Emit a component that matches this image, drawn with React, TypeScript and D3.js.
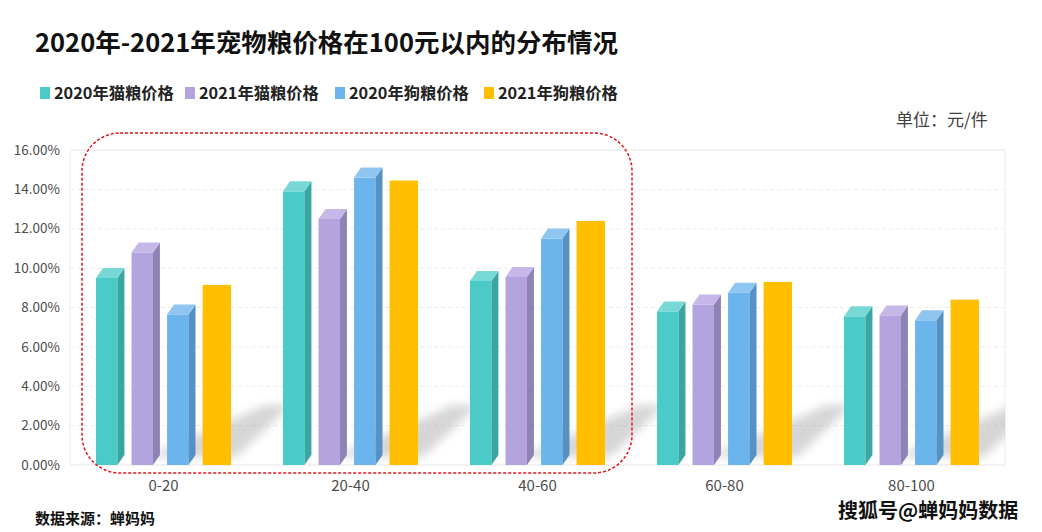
import React from "react";
import * as d3 from "d3";

const categories = ["0-20", "20-40", "40-60", "60-80", "80-100"];
const seriesNames = ["2020年猫粮价格", "2021年猫粮价格", "2020年狗粮价格", "2021年狗粮价格"];
const cat2020 = [9.5, 13.9, 9.35, 7.8, 7.55];
const cat2021 = [10.8, 12.5, 9.55, 8.15, 7.6];
const dog2020 = [7.65, 14.6, 11.5, 8.75, 7.35];
const dog2021 = [9.15, 14.45, 12.4, 9.3, 8.4];
const yTicks = [0, 2, 4, 6, 8, 10, 12, 14, 16];

const seriesValues = [cat2020, cat2021, dog2020, dog2021];
const colors = [
  { front: "#4bcbc8", side: "#3aa6a2", top: "#78d8d5", flat: false },
  { front: "#b3a3df", side: "#8f83b6", top: "#c5b8e8", flat: false },
  { front: "#6bb4ec", side: "#5292c4", top: "#8fc5f1", flat: false },
  { front: "#ffbf00", side: "#ffbf00", top: "#ffbf00", flat: true },
];

const FONT = "'Noto Sans CJK SC', 'Noto Sans', sans-serif";

export default function App() {
  const W = 1042, H = 532;
  const left = 70, right = 1005, top = 150, bottom = 465;
  const y = d3.scaleLinear().domain([0, 16]).range([bottom, top]);
  const x0 = d3.scaleBand<string>().domain(categories).range([left, right]).paddingInner(0.278).paddingOuter(0.139);
  const x1 = d3.scaleBand<number>().domain([0, 1, 2, 3]).range([0, x0.bandwidth()]).paddingInner(0.2);
  const dx = 7, dy = 10;
  const bw = x1.bandwidth();

  return (
    <div style={{ position: "absolute", left: 0, top: 0 }}>
      <svg width={W} height={H} style={{ display: "block", fontFamily: FONT }}>
        <defs>
          <filter id="blur" x="-50%" y="-50%" width="200%" height="200%">
            <feGaussianBlur stdDeviation="5" />
          </filter>
          <clipPath id="plotClip">
            <rect x={left} y={top} width={right - left} height={bottom - top} />
          </clipPath>
        </defs>
        <rect width={W} height={H} fill="#fff" />
        <text x={35} y={52} fontSize={25.5} fontWeight={700} fill="#111">2020年-2021年宠物粮价格在100元以内的分布情况</text>

        {/* legend */}
        {(() => {
          const starts = [40, 185, 335, 484];
          return seriesNames.map((s, i) => (
            <g key={s} transform={`translate(${starts[i]},0)`}>
              <rect x={0} y={87} width={10} height={12} fill={colors[i].front} />
              <text x={14} y={99} fontSize={16.3} fontWeight={700} fill="#222">{s}</text>
            </g>
          ));
        })()}

        <text x={896} y={126} fontSize={17} fill="#404040">单位：元/件</text>

        {/* plot frame & grid */}
        {yTicks.map((t) => (
          <g key={t}>
            <line x1={left} x2={right} y1={y(t)} y2={y(t)} stroke={t === 0 || t === 16 ? "#e6e6e6" : "#ececec"} strokeWidth={1} strokeDasharray={t === 0 || t === 16 ? undefined : "4,3"} />
            <text x={60} y={y(t)} dy="0.35em" textAnchor="end" fontSize={13.5} fill="#4d4d4d">{t.toFixed(2) + "%"}</text>
          </g>
        ))}
        <line x1={left} x2={left} y1={top} y2={bottom} stroke="#ececec" />
        <line x1={right} x2={right} y1={top} y2={bottom} stroke="#ececec" />

        {/* shadows */}
        <g clipPath="url(#plotClip)">
          {categories.map((c) => {
            const gx = x0(c)!;
            const gw = x0.bandwidth();
            const pts = [
              [gx + 50, bottom - 8],
              [gx + gw + 5, bottom - 8],
              [gx + gw + 60, bottom - 60],
              [gx + gw + 35, bottom - 60],
            ];
            return <polygon key={"s" + c} points={pts.map((p) => p.join(",")).join(" ")} fill="#8a8a8a" opacity={0.35} filter="url(#blur)" />;
          })}
        </g>

        {/* bars */}
        {categories.map((c, ci) => (
          <g key={c} transform={`translate(${x0(c)},0)`}>
            {seriesValues.map((vals, si) => {
              const bx = x1(si)!;
              const v = vals[ci];
              const yv = y(v);
              const col = colors[si];
              if (col.flat) {
                return <rect key={si} x={bx} y={yv} width={bw} height={bottom - yv} fill={col.front} />;
              }
              const fw = bw - dx;
              return (
                <g key={si}>
                  <rect x={bx} y={yv} width={fw} height={bottom - yv} fill={col.front} />
                  <polygon points={`${bx + fw},${yv} ${bx + fw + dx},${yv - dy} ${bx + fw + dx},${bottom - dy} ${bx + fw},${bottom}`} fill={col.side} />
                  <polygon points={`${bx},${yv} ${bx + dx},${yv - dy} ${bx + fw + dx},${yv - dy} ${bx + fw},${yv}`} fill={col.top} />
                </g>
              );
            })}
          </g>
        ))}

        {/* x labels */}
        {categories.map((c) => (
          <text key={"l" + c} x={x0(c)! + x0.bandwidth() / 2} y={491} textAnchor="middle" fontSize={15} fill="#4d4d4d">{c}</text>
        ))}

        {/* highlight */}
        <rect x={82} y={133} width={550} height={340} rx={38} ry={38} fill="none" stroke="#e8141b" strokeWidth={1.5} strokeDasharray="3,2" />

        <text x={35} y={524} fontSize={15} fontWeight={700} fill="#111">数据来源：蝉妈妈</text>
        <text x={838} y={518} fontSize={20} fontWeight={700} fill="#111" stroke="#fff" strokeWidth={1.2} paintOrder="stroke">搜狐号@蝉妈妈数据</text>
      </svg>
    </div>
  );
}
